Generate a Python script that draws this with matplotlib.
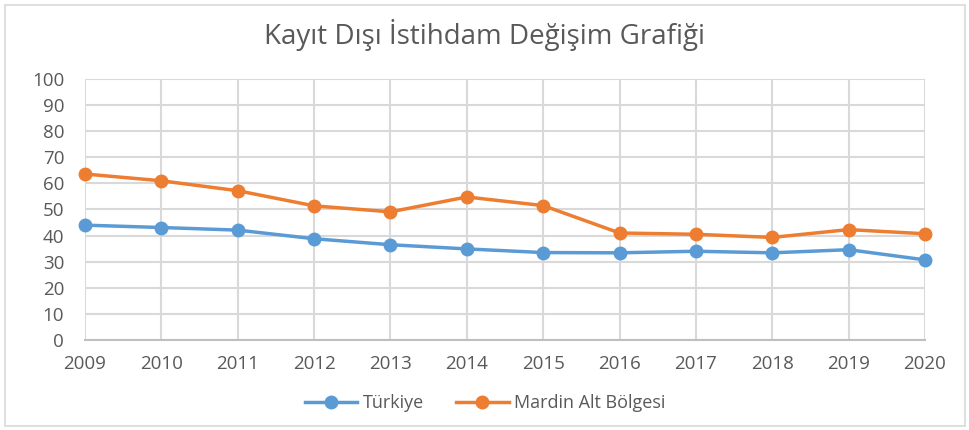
import matplotlib.pyplot as plt
from matplotlib.patches import Rectangle

years = [2009, 2010, 2011, 2012, 2013, 2014, 2015, 2016, 2017, 2018, 2019, 2020]
turkiye = [44.0, 43.1, 42.1, 38.8, 36.5, 34.9, 33.5, 33.4, 34.0, 33.4, 34.6, 30.7]
mardin = [63.6, 61.0, 57.2, 51.4, 49.1, 54.8, 51.5, 41.0, 40.5, 39.3, 42.3, 40.7]

plt.rcParams['font.family'] = ['Open Sans', 'DejaVu Sans']
text_color = '#595959'
grid_color = '#d9d9d9'

fig = plt.figure(figsize=(9.7, 4.3), dpi=100)
fig.patches.append(Rectangle((0.005, 0.01), 0.99, 0.978, transform=fig.transFigure,
                             fill=False, edgecolor='#d9d9d9', linewidth=1.2))
ax = fig.add_axes([0.0876, 0.2093, 0.866, 0.607])

ax.plot(years, turkiye, color='#5b9bd5', linewidth=2.5, marker='o', markersize=9,
        label='Türkiye', clip_on=False, zorder=3)
ax.plot(years, mardin, color='#ed7d31', linewidth=2.5, marker='o', markersize=9,
        label='Mardin Alt Bölgesi', clip_on=False, zorder=3)

ax.set_xlim(years[0], years[-1])
ax.set_ylim(0, 100)
ax.set_xticks(years)
ax.set_yticks(range(0, 101, 10))
ax.grid(True, color=grid_color, linewidth=1.5)
ax.set_axisbelow(True)
for side in ['top', 'right', 'left']:
    ax.spines[side].set_visible(False)
ax.spines['bottom'].set_color('#bfbfbf')
ax.spines['bottom'].set_linewidth(1.5)
ax.tick_params(length=0, colors=text_color, labelsize=13.5)
ax.tick_params(axis='x', pad=11)
ax.tick_params(axis='y', pad=15)

fig.suptitle('Kayıt Dışı İstihdam Değişim Grafiği', x=0.5, y=0.955, fontsize=20, color=text_color)
fig.legend(loc='center', bbox_to_anchor=(0.5, 0.063), ncol=2, frameon=False, fontsize=13,
           labelcolor=text_color, handlelength=2.9, handletextpad=0.3, columnspacing=1.8)

fig.savefig('out.png')
